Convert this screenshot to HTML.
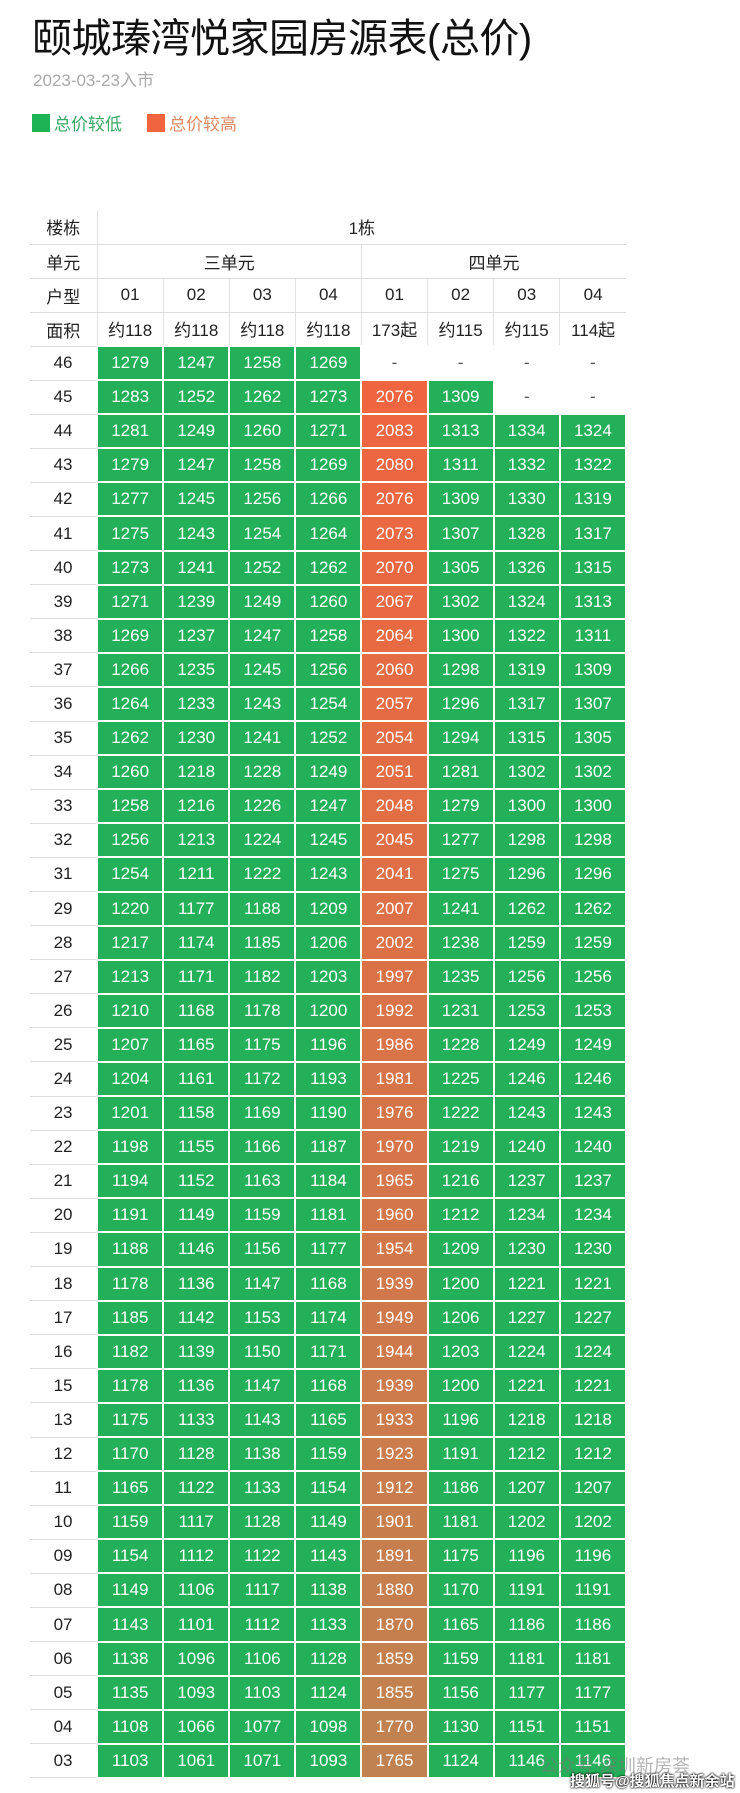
<!DOCTYPE html>
<html><head><meta charset="utf-8">
<style>
*{margin:0;padding:0;box-sizing:border-box}
body{width:740px;height:1793px;background:#fff;position:relative;overflow:hidden;font-family:"Liberation Sans","Noto Sans CJK SC",sans-serif}
.title{position:absolute;left:32px;top:6px;font-size:40px;color:#111;white-space:nowrap;letter-spacing:-0.5px}
.date{position:absolute;left:33px;top:66px;font-size:17px;color:#aaa}
.leg{position:absolute;top:110px;font-size:17px;display:flex;align-items:center}
.sq{width:18px;height:18px;margin-right:4px}
table{position:absolute;left:30px;top:210px;border-collapse:collapse;table-layout:fixed;width:597px}
td{text-align:center;font-size:17px;color:#222;padding:0;white-space:nowrap}
tr.h td{height:34px;border-bottom:1.5px solid #ddd;border-left:1.5px solid #e2e2e2}
tr.h td:first-child{border-left:none}
tr.d td{height:34.1px;border:2px solid #fff;color:#fff;background:#24b058}
tr.d td:first-child{background:#fff;color:#222;border:none;border-bottom:1.5px solid #ddd}
tr.d td.e{background:#fff;color:#555}
tr.d td.r{background:#ef6641}
.wm1{position:absolute;left:540px;top:1752px;font-size:18px;color:rgba(120,120,120,.55)}
.wm2{position:absolute;left:570px;top:1770px;font-size:15px;color:#fff;font-weight:bold;text-shadow:0 0 2px #000,0 0 2px #000}
</style></head><body>
<div class="title">颐城瑧湾悦家园房源表(总价)</div>
<div class="date">2023-03-23入市</div>
<div class="leg" style="left:32px"><div class="sq" style="background:#1cb454"></div><span style="color:#3aa865">总价较低</span></div>
<div class="leg" style="left:147px"><div class="sq" style="background:#f0643f"></div><span style="color:#e08a66">总价较高</span></div>
<table>
<colgroup><col style="width:67px"><col span="8" style="width:66px"></colgroup>
<tr class="h"><td>楼栋</td><td colspan="8">1栋</td></tr>
<tr class="h"><td>单元</td><td colspan="4">三单元</td><td colspan="4">四单元</td></tr>
<tr class="h"><td>户型</td><td>01</td><td>02</td><td>03</td><td>04</td><td>01</td><td>02</td><td>03</td><td>04</td></tr>
<tr class="h"><td>面积</td><td>约118</td><td>约118</td><td>约118</td><td>约118</td><td>173起</td><td>约115</td><td>约115</td><td>114起</td></tr>
<tbody id="tb"></tbody>
</table>
<div class="wm1">公众号·深圳新房荟</div>
<div class="wm2">搜狐号@搜狐焦点新余站</div>
<script>
var d=`46 1279 1247 1258 1269 - - - -
45 1283 1252 1262 1273 2076 1309 - -
44 1281 1249 1260 1271 2083 1313 1334 1324
43 1279 1247 1258 1269 2080 1311 1332 1322
42 1277 1245 1256 1266 2076 1309 1330 1319
41 1275 1243 1254 1264 2073 1307 1328 1317
40 1273 1241 1252 1262 2070 1305 1326 1315
39 1271 1239 1249 1260 2067 1302 1324 1313
38 1269 1237 1247 1258 2064 1300 1322 1311
37 1266 1235 1245 1256 2060 1298 1319 1309
36 1264 1233 1243 1254 2057 1296 1317 1307
35 1262 1230 1241 1252 2054 1294 1315 1305
34 1260 1218 1228 1249 2051 1281 1302 1302
33 1258 1216 1226 1247 2048 1279 1300 1300
32 1256 1213 1224 1245 2045 1277 1298 1298
31 1254 1211 1222 1243 2041 1275 1296 1296
29 1220 1177 1188 1209 2007 1241 1262 1262
28 1217 1174 1185 1206 2002 1238 1259 1259
27 1213 1171 1182 1203 1997 1235 1256 1256
26 1210 1168 1178 1200 1992 1231 1253 1253
25 1207 1165 1175 1196 1986 1228 1249 1249
24 1204 1161 1172 1193 1981 1225 1246 1246
23 1201 1158 1169 1190 1976 1222 1243 1243
22 1198 1155 1166 1187 1970 1219 1240 1240
21 1194 1152 1163 1184 1965 1216 1237 1237
20 1191 1149 1159 1181 1960 1212 1234 1234
19 1188 1146 1156 1177 1954 1209 1230 1230
18 1178 1136 1147 1168 1939 1200 1221 1221
17 1185 1142 1153 1174 1949 1206 1227 1227
16 1182 1139 1150 1171 1944 1203 1224 1224
15 1178 1136 1147 1168 1939 1200 1221 1221
13 1175 1133 1143 1165 1933 1196 1218 1218
12 1170 1128 1138 1159 1923 1191 1212 1212
11 1165 1122 1133 1154 1912 1186 1207 1207
10 1159 1117 1128 1149 1901 1181 1202 1202
09 1154 1112 1122 1143 1891 1175 1196 1196
08 1149 1106 1117 1138 1880 1170 1191 1191
07 1143 1101 1112 1133 1870 1165 1186 1186
06 1138 1096 1106 1128 1859 1159 1181 1181
05 1135 1093 1103 1124 1855 1156 1177 1177
04 1108 1066 1077 1098 1770 1130 1151 1151
03 1103 1061 1071 1093 1765 1124 1146 1146`.split("\n");
var h="",n=d.length;
d.forEach(function(l,i){var c=l.split(" ");h+="<tr class='d'>";
c.forEach(function(v,j){
 if(j==0){h+="<td>"+v+"</td>";return}
 if(v=="-"){h+="<td class='e'>-</td>";return}
 if(j==5){var t=i/(n-1);var r=Math.round(240-t*48),g=Math.round(100+t*30),b=Math.round(64+t*16);
 h+="<td class='r' style='background:rgb("+r+","+g+","+b+")'>"+v+"</td>";return}
 h+="<td>"+v+"</td>";});
h+="</tr>";});
document.getElementById("tb").innerHTML=h;
</script>
</body></html>
